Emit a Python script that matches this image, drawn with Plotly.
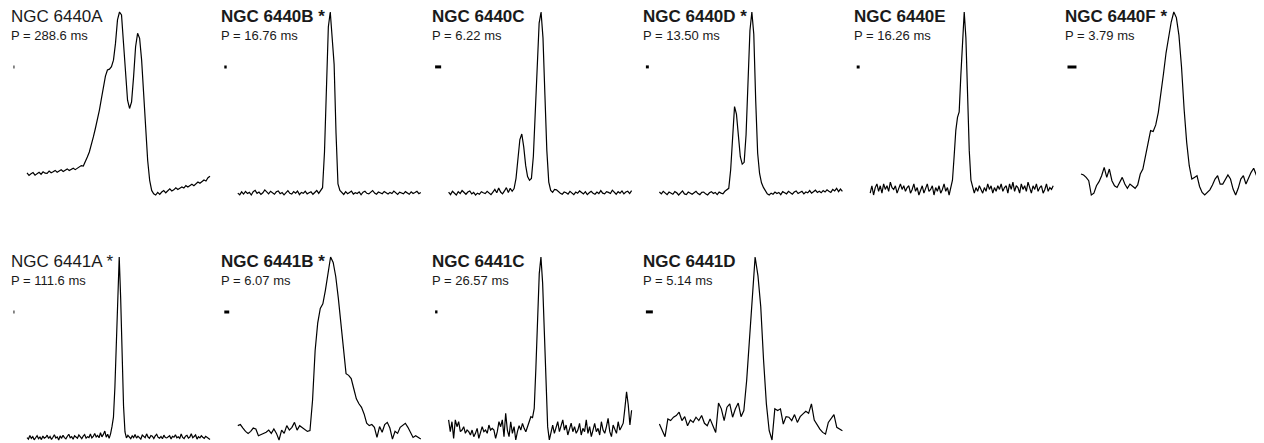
import numpy as np
import plotly.graph_objects as go

names = ["NGC 6440A", "NGC 6440B *", "NGC 6440C", "NGC 6440D *", "NGC 6440E", "NGC 6440F *",
         "NGC 6441A *", "NGC 6441B *", "NGC 6441C", "NGC 6441D"]
periods = ["288.6", "16.76", "6.22", "13.50", "16.26", "3.79", "111.6", "6.07", "26.57", "5.14"]
bold = [False, True, True, True, True, True, False, True, True, True]
# time resolution as a fraction of the pulse period
resolution = [0.005, 0.013, 0.033, 0.016, 0.016, 0.049, 0.005, 0.027, 0.013, 0.038]

prof_6440A = [12.2, 10.9, 11.8, 12.4, 11.0, 11.9, 12.6, 11.5, 12.8, 12.1,
              12.0, 13.2, 12.3, 12.9, 13.6, 12.6, 13.4, 13.9, 13.0, 13.7,
              14.4, 13.5, 14.1, 14.8, 14.0, 14.9, 15.5, 16.2, 16.0, 18.2,
              20.9, 23.6, 27.3, 31.8, 36.4, 40.9, 46.4, 52.7, 59.1, 64.9,
              68.2, 68.7, 70.0, 73.6, 82.7, 95.5, 99.8, 98.2, 82.7, 64.5,
              51.8, 47.3, 50.9, 64.5, 80.9, 88.2, 85.5, 73.6, 55.5, 35.5,
              19.1, 8.2, 2.7, 0.9, 0.2, 1.6, 0.5, 1.8, 2.6, 1.4,
              2.3, 3.5, 2.4, 3.0, 4.1, 3.2, 3.9, 4.6, 4.0, 5.3,
              4.6, 5.2, 6.1, 5.3, 6.4, 7.3, 6.6, 7.5, 8.4, 7.8,
              9.6, 10.4]

prof_6440B = [3.1, 2.2, 3.8, 2.6, 4.0, 2.9, 3.5, 2.1, 3.9, 4.6,
              3.0, 3.7, 2.4, 3.3, 4.8, 3.6, 2.7, 4.1, 3.2, 2.5,
              3.8, 4.3, 2.8, 3.4, 2.2, 3.6, 4.4, 3.0, 2.6, 3.9,
              3.1, 4.2, 2.3, 3.5, 3.0, 4.1, 2.7, 3.3, 3.8, 2.5,
              3.6, 4.5, 3.0, 4.9,
              6, 25, 55, 92, 100, 85, 72, 35, 8, 4.5,
              3.2, 2.4, 3.9, 2.8, 3.5, 4.2, 2.6, 3.3, 2.9, 3.8,
              2.2, 3.6, 4.1, 3.0, 2.7, 3.4, 4.5, 3.1, 2.5, 3.7,
              3.2, 2.8, 4.0, 3.3, 2.6, 3.5, 2.9, 4.2, 3.1, 2.4,
              3.6, 3.0, 2.7, 3.9, 3.3, 2.5, 3.8, 2.9, 3.4, 4.1,
              2.8, 3.5]

prof_6440C = [2.5, 1.2, 3.0, 2.0, 1.0, 2.8, 1.8, 3.4, 2.2, 1.4,
              2.6, 3.2, 1.6, 2.4, 1.0, 2.0, 1.4, 2.8, 2.2, 1.8,
              3.0, 2.0, 1.2, 2.6, 4.0, 2.2, 4.8, 2.6, 1.6, 3.2,
              5.0, 2.4, 4.6, 3.0,
              4.5, 10, 20, 31, 34, 27, 17, 11, 9, 10, 22, 46, 74, 94, 100, 86, 55, 25, 8, 3.5,
              2.5, 4.0, 3.8, 2.6,
              2.0, 1.4, 2.6, 2.2, 1.5, 3.0, 1.8, 1.2, 2.6, 2.0,
              3.2, 2.4, 1.6, 2.8, 1.2, 2.2, 3.0, 2.0, 1.4, 2.6,
              1.8, 3.4, 2.0, 1.6, 2.8, 2.4, 1.8, 3.6, 2.2, 1.4,
              2.8, 2.0, 3.2, 1.6, 2.6, 3.0, 1.8, 3.4]

prof_6440D = [3.0, 2.0, 3.4, 2.2, 1.6, 3.0, 2.4, 1.8, 3.2, 2.6,
              1.4, 2.8, 3.6, 2.0, 1.6, 3.0, 2.4, 1.8, 2.6, 3.4,
              2.2, 1.6, 2.8, 3.0, 2.0, 1.4, 2.6, 3.2, 2.2, 2.8,
              1.6, 3.0, 2.4, 2.0, 3.4, 4.0,
              5, 15, 32, 49, 45, 34, 22, 18, 19, 34, 65, 90, 100, 88, 52, 24, 13, 8, 5.5, 3.5, 2.0,
              1.4, 2.4, 1.8, 3.0, 2.2, 2.8, 1.6, 3.2, 2.6, 2.0,
              3.4, 2.4, 1.8, 3.0, 3.6, 2.2, 2.8, 3.4, 2.0, 3.0,
              2.6, 3.8, 2.4, 3.2, 4.0, 2.8, 3.4, 2.6, 3.8, 3.0,
              4.2, 3.4, 2.8, 4.4, 3.6, 5.0, 3.2, 4.6, 3.4]

prof_6440E = [2, 6, 1, 5, 7, 3, 6, 2, 7, 4,
              6, 3, 8, 5, 4, 6, 2, 5, 7, 4,
              6, 3, 5, 6, 2, 4, 7, 3, 5, 1,
              4, 6, 2, 5, 7, 3, 4, 6, 1, 5,
              3, 6, 2, 4, 7, 3, 5, 1, 6,
              9, 22, 36, 43, 46, 66, 86, 100, 86, 55, 25, 9, 5,
              2, 5, 3, 6, 4, 2, 5, 3, 7, 4,
              6, 2, 5, 3, 6, 4, 7, 3, 5, 6,
              2, 7, 4, 8, 3, 6, 5, 2, 7, 4,
              6, 3, 8, 5, 2, 6, 4, 7, 3, 5,
              6, 2, 4, 7, 3, 5, 4, 6]

prof_6440F = [12.6, 12.1, 10.8, 9.0, 1.3, 2.3, 6.3, 8.5, 11.7, 16.2,
              10.8, 15.3, 9.0, 6.3, 5.4, 8.6, 10.8, 7.2, 4.9, 7.2,
              5.8, 4.9, 6.7, 12.6, 15.3, 22.5, 30.6, 36.0, 35.5, 39.1,
              45.9, 55.0, 66.7, 78.0, 87.4, 94.6, 100.0, 97.0, 87.4, 70.3,
              47.7, 29.7, 17.1, 9.9, 10.8, 11.7, 5.9, 2.7, 1.3, 2.7,
              4.1, 6.7, 9.9, 11.7, 7.2, 7.2, 9.5, 12.1, 9.9, 4.5,
              1.3, 4.9, 9.9, 11.7, 7.2, 10.8, 13.5, 15.7, 12.1, 12.6,
              14.4, 15.3]

prof_6441A = [3.0, 2.2, 4.1, 2.6, 3.5, 1.8, 2.9, 4.0, 2.4, 3.3,
              1.9, 3.8, 2.7, 3.1, 4.3, 2.5, 3.6, 2.0, 3.2, 4.5,
              2.8, 3.4, 1.7, 3.9, 2.6, 4.2, 3.0, 2.3, 3.7, 4.8,
              2.9, 3.5, 2.1, 4.0, 3.3, 2.6, 4.4, 3.1, 2.4, 3.8,
              4.6, 2.7, 3.5, 3.0, 4.9, 2.8, 3.6, 5.2, 3.3, 4.1,
              2.9, 5.6, 3.4, 4.7, 6.5, 3.2, 4.8, 2.6,
              5, 9, 14, 30, 55, 85, 100, 78, 45, 20, 6,
              2.8, 4.2, 3.5, 2.4, 3.9, 3.0, 4.6, 2.7, 3.8, 3.2,
              2.2, 4.4, 3.6, 2.9, 5.0, 3.3, 2.6, 4.1, 3.7, 2.5,
              3.9, 4.8, 3.1, 2.7, 3.6, 2.4, 4.3, 3.0, 2.8, 3.5,
              4.0, 2.3, 3.7, 3.2, 4.5, 2.9, 3.4, 2.6, 4.9, 3.1,
              2.5, 3.8, 4.2, 2.7, 3.3, 5.1, 2.9, 3.6, 4.4, 2.2,
              3.5, 2.8, 4.0, 3.2, 2.6, 3.7, 3.0, 2.4, 2.0]

prof_6441B = [8.2, 8.8, 6.9, 5.1, 4.0, 5.1, 6.9, 6.4, 2.7, 3.3,
              3.6, 4.6, 5.8, 4.0, 6.4, 4.0, 0.4, 5.8, 4.0, 8.2,
              5.8, 7.3, 10.0, 5.8, 8.2, 7.3, 6.4, 5.1, 5.5, 22.0,
              49.0, 64.0, 72.0, 74.5, 82.0, 92.2, 100.0, 97.0, 89.4, 77.6,
              64.8, 51.1, 36.5, 35.6, 33.8, 28.3, 22.8, 20.1, 18.2, 14.6,
              9.5, 8.2, 8.8, 7.3, 1.8, 7.7, 4.6, 8.8, 10.0, 6.9,
              0.9, 5.1, 4.0, 7.3, 8.2, 9.5, 7.3, 4.6, 1.8, 2.7,
              1.8, 0.9]

prof_6441C = [11.8, 5.4, 10.8, 1.8, 11.8, 8.1, 10.8, 5.4, 6.3, 8.1,
              4.5, 6.3, 5.4, 3.6, 6.3, 2.7, 4.5, 7.2, 1.8, 4.5,
              8.1, 5.4, 6.3, 4.5, 9.0, 6.3, 7.2, 6.3, 1.8, 5.4,
              10.8, 8.1, 11.8, 2.7, 15.4, 6.3, 2.7, 10.8, 4.5, 8.1,
              0.9, 5.4, 8.7, 6.3, 9.9, 7.2, 5.4, 8.1, 11.0, 13.5,
              13, 18, 40, 66, 91, 100, 86, 60, 28, 8, 1, 5,
              9.0, 4.5, 7.2, 10.8, 5.4, 8.1, 11.8, 6.3, 9.0, 3.6,
              7.2, 10.0, 5.4, 8.1, 4.5, 6.3, 9.9, 3.6, 7.2, 5.4,
              11.8, 4.5, 8.1, 2.7, 6.3, 9.9, 5.4, 7.2, 3.6, 10.8,
              6.3, 4.5, 8.1, 12.6, 5.4, 2.7, 9.0, 7.2, 4.5, 10.8,
              6.3, 8.1,
              10, 18, 27, 20, 9, 17]

prof_6441D = [9.9, 6.3, 3.1, 12.7, 11.8, 13.6, 14.5, 16.3, 11.8, 13.9,
              9.0, 12.1, 10.8, 13.6, 11.8, 14.5, 10.3, 9.0, 12.7, 9.0,
              5.4, 21.2, 18.1, 11.8, 19.0, 20.8, 13.6, 18.1, 21.2, 13.9,
              17.2, 33.5, 55.2, 80.0, 100.0, 90.0, 73.2, 44.3, 20.8, 6.3,
              1.3, 18.1, 17.2, 18.1, 9.9, 13.9, 13.6, 11.8, 15.0, 10.8,
              13.9, 15.4, 16.8, 15.7, 20.8, 12.1, 9.6, 7.2, 5.4, 4.5,
              10.8, 12.7, 15.0, 8.1, 7.2, 6.3]

profiles = [prof_6440A, prof_6440B, prof_6440C, prof_6440D, prof_6440E, prof_6440F,
            prof_6441A, prof_6441B, prof_6441C, prof_6441D]

W, H = 1264, 443
OFF = 8.0  # page offset of the figure inside the browser window
x0_px = 27.0 - OFF
col_step = 210.8
pw = 183.0
row_px = [(12.0 - OFF, 195.0 - OFF), (257.0 - OFF, 440.0 - OFF)]
title_px = [16.3 - OFF, 261.3 - OFF]
sub_px = [35.2 - OFF, 280.2 - OFF]
FONT = "Arial, 'Liberation Sans', sans-serif"

fig = go.Figure()
layout = {}
annotations = []
for k, prof in enumerate(profiles):
    r, c = divmod(k, 6)
    y = np.array(prof, dtype=float)
    n = len(y)
    x = np.arange(n) / (n - 1)
    start = x0_px + col_step * c
    left_px = start - 15.5
    right_px = min(start + pw + 1.5, W)
    top, bot = row_px[r]
    ymin, ymax = y.min(), y.max()
    span = ymax - ymin
    pad = 2.0
    ax = "" if k == 0 else str(k + 1)
    fig.add_trace(go.Scatter(x=x, y=y, mode="lines", line=dict(color="black", width=1.2),
                             xaxis="x" + ax, yaxis="y" + ax, hoverinfo="skip", showlegend=False))
    bx = -13.5 / pw
    by = ymin + 0.70 * span
    fig.add_trace(go.Scatter(x=[bx, bx + resolution[k]], y=[by, by], mode="lines",
                             line=dict(color="black", width=3),
                             xaxis="x" + ax, yaxis="y" + ax, hoverinfo="skip", showlegend=False))
    layout["xaxis" + ax] = dict(domain=[max(0, left_px / W), right_px / W],
                                range=[(max(0, left_px) - start) / pw, (right_px - start) / pw],
                                visible=False, anchor="y" + ax, fixedrange=True)
    layout["yaxis" + ax] = dict(domain=[max(0, 1 - (bot + pad) / H), 1 - (top - pad) / H],
                                range=[ymin - pad * span / (bot - top), ymax + pad * span / (bot - top)],
                                visible=False, anchor="x" + ax, fixedrange=True)
    t = names[k]
    if bold[k]:
        t = "<b>" + t + "</b>"
    annotations.append(dict(text=t, x=max(0, start - 18.5) / W, y=1 - title_px[r] / H,
                            xref="paper", yref="paper", xanchor="left", yanchor="middle",
                            showarrow=False, font=dict(family=FONT, size=17, color="#1a1a1a")))
    annotations.append(dict(text="P = " + periods[k] + " ms", x=max(0, start - 18.5) / W,
                            y=1 - sub_px[r] / H,
                            xref="paper", yref="paper", xanchor="left", yanchor="middle",
                            showarrow=False, font=dict(family=FONT, size=13, color="#1a1a1a")))

fig.update_layout(**layout)
fig.update_layout(width=W, height=H, margin=dict(l=0, r=0, t=0, b=0),
                  paper_bgcolor="white", plot_bgcolor="white",
                  annotations=annotations, showlegend=False)
fig.write_html("out.html")
